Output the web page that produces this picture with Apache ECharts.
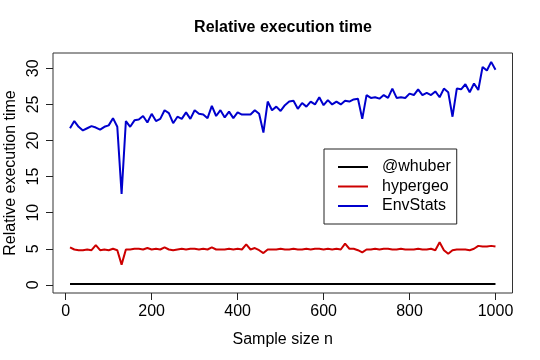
<!DOCTYPE html>
<html>
<head>
<meta charset="utf-8">
<script src="https://cdn.jsdelivr.net/npm/echarts@6/dist/echarts.min.js"></script>
<style>
html,body{margin:0;padding:0;background:#fff;}
#chart{width:540px;height:360px;}
</style>
</head>
<body>
<div id="chart"></div>
<script>
const sampleSizes = [10,20,30,40,50,60,70,80,90,100,110,120,130,140,150,160,170,180,190,200,
210,220,230,240,250,260,270,280,290,300,310,320,330,340,350,360,370,380,390,400,
410,420,430,440,450,460,470,480,490,500,510,520,530,540,550,560,570,580,590,600,
610,620,630,640,650,660,670,680,690,700,710,720,730,740,750,760,770,780,790,800,
810,820,830,840,850,860,870,880,890,900,910,920,930,940,950,960,970,980,990,1000];

const whuber = [0.1,0.1,0.1,0.1,0.1,0.1,0.1,0.1,0.1,0.1,0.1,0.1,0.1,0.1,0.1,0.1,0.1,0.1,0.1,0.1,
0.1,0.1,0.1,0.1,0.1,0.1,0.1,0.1,0.1,0.1,0.1,0.1,0.1,0.1,0.1,0.1,0.1,0.1,0.1,0.1,
0.1,0.1,0.1,0.1,0.1,0.1,0.1,0.1,0.1,0.1,0.1,0.1,0.1,0.1,0.1,0.1,0.1,0.1,0.1,0.1,
0.1,0.1,0.1,0.1,0.1,0.1,0.1,0.1,0.1,0.1,0.1,0.1,0.1,0.1,0.1,0.1,0.1,0.1,0.1,0.1,
0.1,0.1,0.1,0.1,0.1,0.1,0.1,0.1,0.1,0.1,0.1,0.1,0.1,0.1,0.1,0.1,0.1,0.1,0.1,0.1];

const hypergeo = [5.2,4.9,4.8,4.8,4.9,4.8,5.5,4.8,4.9,4.8,5.0,4.8,2.8,4.9,4.9,5.0,5.0,4.9,5.1,4.9,
5.0,4.9,5.2,4.9,4.8,4.9,5.0,4.9,5.0,5.0,4.9,5.0,4.9,5.2,4.9,4.9,4.9,5.0,4.9,5.0,
4.9,5.6,4.9,5.1,4.8,4.4,4.9,4.9,4.9,5.0,4.9,4.9,5.0,4.9,4.9,5.0,4.9,5.0,5.0,4.9,
5.0,4.9,5.0,4.9,5.7,5.0,5.0,4.8,4.5,4.9,4.9,5.0,4.9,5.0,5.0,4.9,4.9,5.0,4.9,4.9,
4.9,5.0,4.9,4.9,5.0,4.8,5.9,4.8,4.3,4.8,4.9,4.9,4.9,4.8,5.0,5.4,5.3,5.3,5.4,5.3];

const envStats = [21.7,22.7,21.9,21.4,21.7,22.0,21.8,21.5,21.9,22.1,23.1,21.9,12.6,22.7,21.9,22.8,22.9,23.4,22.5,23.7,
22.7,23.0,24.2,23.8,22.4,23.3,23.0,23.9,23.0,24.2,23.7,23.6,23.1,24.8,23.4,24.2,23.2,24.0,23.1,23.9,
23.6,23.6,23.6,24.2,23.7,21.1,25.4,24.2,24.7,24.1,24.9,25.4,25.5,24.4,25.2,24.7,25.4,25.0,26.0,24.9,
25.6,25.0,25.4,25.0,25.5,25.4,25.7,25.8,23.0,26.3,25.9,26.0,25.8,26.3,25.9,27.2,25.9,26.0,25.9,26.5,
26.3,27.1,26.3,26.6,26.3,26.8,26.0,27.2,26.7,23.3,27.2,27.1,27.8,26.7,27.9,27.0,30.2,29.7,30.9,29.8];

const xTicks = [0,200,400,600,800,1000];
const yTicks = [0,5,10,15,20,25,30];
const seriesNames = ['@whuber','hypergeo','EnvStats'];

const pair = (vals) => sampleSizes.map((n, i) => [n, vals[i]]);

const FONT = 'Liberation Sans, Arial, Helvetica, sans-serif';
const chart = echarts.init(document.getElementById('chart'), null, {renderer: 'canvas'});

chart.setOption({
  animation: false,
  backgroundColor: '#fff',
  title: {
    text: 'Relative execution time',
    left: 278,
    textAlign: 'center',
    top: 15,
    textStyle: {fontFamily: FONT, fontSize: 16, fontWeight: 'bold', color: '#000'}
  },
  grid: {
    left: 53, right: 27.5, top: 53, bottom: 67,
    containLabel: false,
    outerBoundsMode: 'none',
    show: true, borderColor: '#333', borderWidth: 1, backgroundColor: 'transparent'
  },
  legend: {
    orient: 'vertical',
    left: 324, top: 149,
    data: seriesNames,
    backgroundColor: '#fff',
    borderColor: '#222', borderWidth: 1, borderRadius: 0,
    padding: [10, 6, 10, 14],
    itemWidth: 30, itemHeight: 14, itemGap: 3.5,
    icon: 'path://M0,0 L30,0 L30,2 L0,2 Z',
    textStyle: {fontFamily: FONT, fontSize: 16, color: '#000', padding: [0, 0, 0, 9]}
  },
  xAxis: {
    type: 'value',
    min: -29.6, max: 1039.6,
    name: 'Sample size n',
    nameLocation: 'middle',
    nameGap: 39,
    nameTextStyle: {fontFamily: FONT, fontSize: 16, color: '#000'},
    axisLine: {show: false, onZero: false},
    axisTick: {show: true, length: 7, inside: false, customValues: xTicks, lineStyle: {color: '#222'}},
    axisLabel: {customValues: xTicks, margin: 11, fontFamily: FONT, fontSize: 16, color: '#000', formatter: v => String(v)},
    splitLine: {show: false}
  },
  yAxis: {
    type: 'value',
    min: -1.13, max: 32.13,
    name: 'Relative execution time',
    nameLocation: 'middle',
    nameGap: 34,
    nameRotate: 90,
    nameTextStyle: {fontFamily: FONT, fontSize: 16, color: '#000'},
    axisLine: {show: false, onZero: false},
    axisTick: {show: true, length: 7, inside: false, customValues: yTicks, lineStyle: {color: '#222'}},
    axisLabel: {customValues: yTicks, rotate: 90, margin: 11, fontFamily: FONT, fontSize: 16, color: '#000', formatter: v => String(v)},
    splitLine: {show: false}
  },
  series: [
    {name: seriesNames[0], type: 'line', data: pair(whuber), symbol: 'none', color: '#000000', lineStyle: {width: 2, color: '#000000'}},
    {name: seriesNames[1], type: 'line', data: pair(hypergeo), symbol: 'none', color: '#CD0000', lineStyle: {width: 2, color: '#CD0000'}},
    {name: seriesNames[2], type: 'line', data: pair(envStats), symbol: 'none', color: '#0000CD', lineStyle: {width: 2, color: '#0000CD'}}
  ]
});
</script>
</body>
</html>
